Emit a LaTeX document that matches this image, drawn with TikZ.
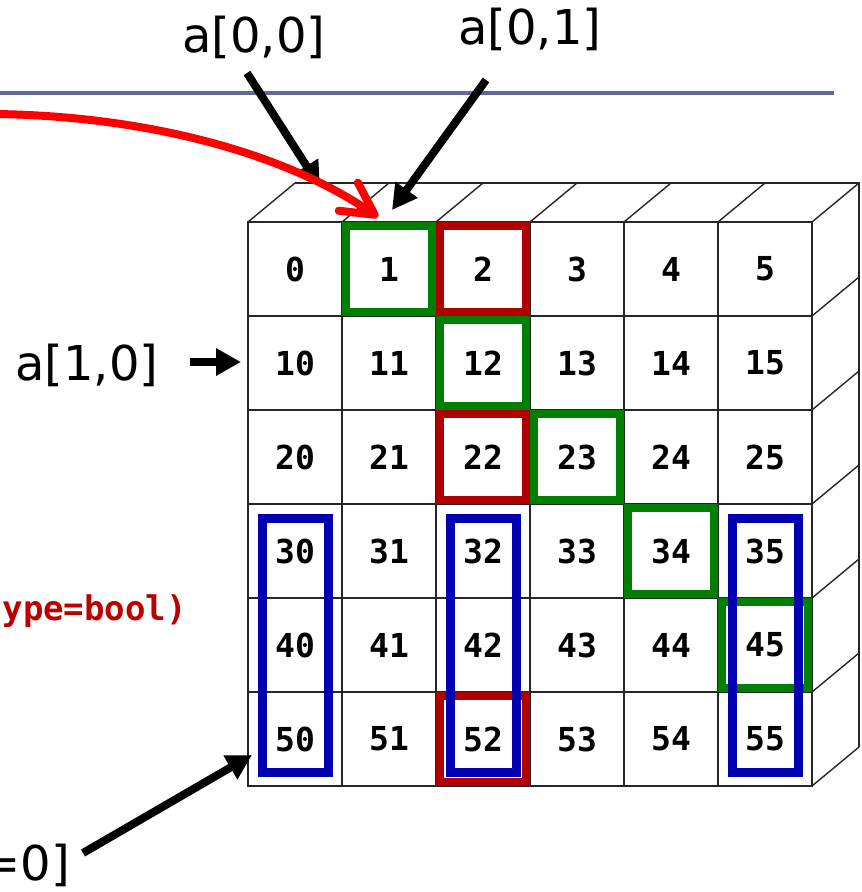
\documentclass[tikz,border=0pt]{standalone}
\usepackage{fontspec}
\setmainfont{DejaVu Sans}
\newfontfamily\monofont{DejaVu Sans Mono}
\usetikzlibrary{arrows.meta}
\definecolor{hlgreen}{RGB}{0,128,0}
\definecolor{hlred}{RGB}{176,0,0}
\definecolor{hlblue}{RGB}{0,0,176}
\definecolor{rulecol}{RGB}{102,102,153}
\definecolor{codered}{RGB}{187,0,0}
\begin{document}
\begin{tikzpicture}[x=1pt,y=-1pt,
  cellbox/.style={draw=black!85, line width=1.4pt, minimum size=94pt, inner sep=0pt, outer sep=0pt, font=\monofont\bfseries\fontsize{33}{33}\selectfont},
  edgeline/.style={draw=black!85, line width=1.4pt},
  greenbox/.style={draw=hlgreen, line width=8pt},
  redbox/.style={draw=hlred, line width=8pt},
  bluebox/.style={draw=hlblue, line width=9pt},
  lbl/.style={inner sep=0pt, font=\fontsize{48}{48}\selectfont},
  blackarrow/.style={draw=black, line width=8pt, -{Triangle[length=25pt,width=26pt]}},
  redarrow/.style={draw=red, line width=8pt, -{Straight Barb[length=32pt,width=34pt,round]}}
]
\useasboundingbox (0,0) rectangle (862,892);
% grid cells
\foreach \r in {0,...,5}{
  \foreach \c in {0,...,5}{
    \pgfmathtruncatemacro\v{10*\r+\c}
    \node[cellbox] (c\r\c) at ({295+94*\c},{269+94*\r}) {\v};
  }
}
% 3D edges
\coordinate (btl) at ([shift={(47,-39)}]c00.north west);
\coordinate (btr) at ([shift={(47,-39)}]c05.north east);
\coordinate (bbr) at ([shift={(47,-39)}]c55.south east);
\foreach \c in {0,...,5}{
  \draw[edgeline] (c0\c.north west) -- ++(47,-39);
}
\foreach \r in {0,...,5}{
  \draw[edgeline] (c\r5.north east) -- ++(47,-39);
}
\draw[edgeline] (c55.south east) -- (bbr);
\draw[edgeline] (btl) -- (btr) -- (bbr);
% highlights
\foreach \n in {c01,c12,c23,c34,c45}{
  \draw[greenbox] ([shift={(4,4)}]\n.north west) rectangle ([shift={(-4,-4)}]\n.south east);
}
\foreach \n in {c02,c22,c52}{
  \draw[redbox] ([shift={(4,4)}]\n.north west) rectangle ([shift={(-4,-4)}]\n.south east);
}
\foreach \c in {0,2,5}{
  \draw[bluebox] ([shift={(14,14)}]c3\c.north west) rectangle ([shift={(-14,-14)}]c5\c.south east);
}
% rule
\coordinate (rl) at (0,93);
\coordinate (rr) at (834,93);
\draw[rulecol, line width=4pt] (rl) -- (rr);
% labels
\node[lbl, anchor=base west] (l00) at (182,52) {a[0,0]};
\node[lbl, anchor=base west] (l01) at (458,44) {a[0,1]};
\node[lbl, anchor=base west] (l10) at (15,380) {a[1,0]};
\node[lbl, anchor=base east] (lbot) at (70,880) {=0]};
\node[inner sep=0pt, anchor=base east, text=codered, font=\monofont\bfseries\fontsize{34}{34}\selectfont] (code) at (187,620) {ype=bool)};
% black arrows
\coordinate (s00) at (247,73);
\coordinate (t00) at (320,187);
\coordinate (s01) at (486,80);
\coordinate (t01) at (392,210);
\coordinate (s10) at (190,362);
\coordinate (t10) at (241,362);
\coordinate (sbot) at (83,853);
\coordinate (tbot) at (252,755);
\draw[blackarrow] (s00) -- (t00);
\draw[blackarrow] (s01) -- (t01);
\draw[blackarrow] (s10) -- (t10);
\draw[blackarrow] (sbot) -- (tbot);
% red arrow
\coordinate (rs) at (-4,114);
\coordinate (rt) at (378,217);
\draw[redarrow] (rs) .. controls (140,116) and (280,150) .. (rt);
\end{tikzpicture}
\end{document}
